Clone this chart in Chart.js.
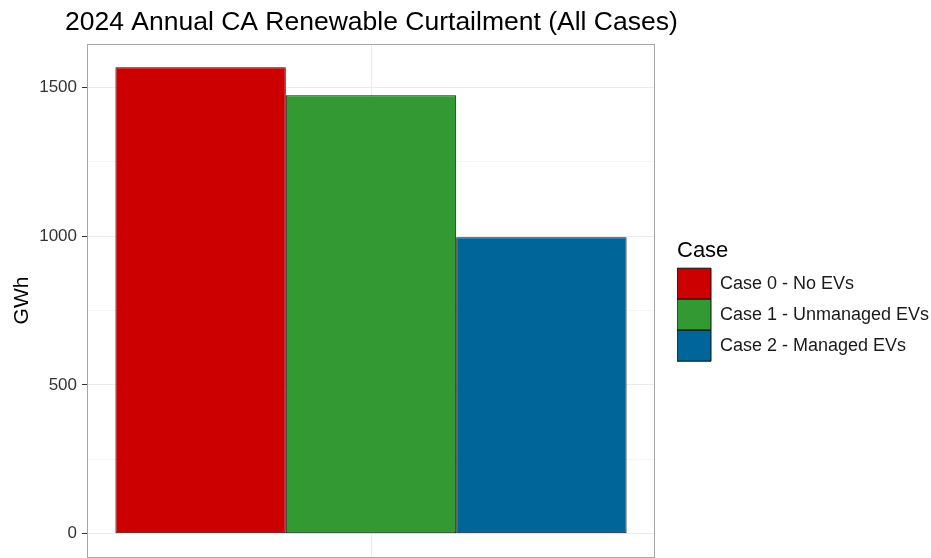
<!DOCTYPE html>
<html>
<head>
<meta charset="utf-8">
<script src="https://cdn.jsdelivr.net/npm/chart.js@4"></script>
<style>
  html, body { margin: 0; padding: 0; background: #fff; }
  #wrap { width: 931px; height: 558px; position: relative; }
</style>
</head>
<body>
<div id="wrap"><canvas id="c"></canvas></div>
<script>
const chartTitle = "2024 Annual CA Renewable Curtailment (All Cases)";
const caseNames = ["Case 0 - No EVs", "Case 1 - Unmanaged EVs", "Case 2 - Managed EVs"];
const curtailment = [1567, 1473, 996];   // GWh
const caseColors = ["#cc0000", "#339933", "#006699"];
const majorTicks = [0, 500, 1000, 1500];
const minorTicks = [250, 750, 1250];

const FONT = "'Liberation Sans', Arial, sans-serif";

// plot title sits left of the panel, so draw it ourselves
const titlePlugin = {
  id: "leftTitle",
  afterDraw(chart) {
    const ctx = chart.ctx;
    ctx.save();
    ctx.font = "26.5px " + FONT;
    ctx.fillStyle = "#000";
    ctx.textBaseline = "alphabetic";
    ctx.fillText(chartTitle, 65, 30);
    ctx.restore();
  }
};

// grey panel border like ggplot theme_bw
const panelBorder = {
  id: "panelBorder",
  afterDatasetsDraw(chart) {
    const a = chart.chartArea;
    const ctx = chart.ctx;
    ctx.save();
    ctx.strokeStyle = "#a6a6a6";
    ctx.lineWidth = 1;
    ctx.strokeRect(Math.round(a.left) + 0.5, Math.round(a.top) + 0.5,
      Math.round(a.right - a.left) - 1, Math.round(a.bottom - a.top));
    ctx.restore();
  }
};

const datasets = caseNames.map((name, i) => ({
  label: name,
  data: [curtailment[i]],
  backgroundColor: caseColors[i],
  borderColor: "#111",
  borderWidth: 1,
  borderSkipped: false,
  categoryPercentage: 0.9,
  barPercentage: 1.0
}));

new Chart(document.getElementById("c"), {
  type: "bar",
  data: { labels: [""], datasets: datasets },
  plugins: [titlePlugin, panelBorder],
  options: {
    responsive: true,
    maintainAspectRatio: false,
    animation: false,
    layout: { padding: { top: 44, right: 0, bottom: 1, left: 0 } },
    plugins: {
      title: { display: false },
      tooltip: { enabled: false },
      legend: {
        position: "right",
        fullSize: false,
        align: "center",
        maxWidth: 254,
        title: {
          display: true,
          text: "Case",
          position: "start",
          color: "#000",
          font: { family: FONT, size: 22 },
          padding: { top: 0, bottom: 2 }
        },
        labels: {
          boxWidth: 34,
          boxHeight: 31,
          padding: 0,
          color: "#1a1a1a",
          font: { family: FONT, size: 18 }
        }
      }
    },
    scales: {
      x: {
        offset: true,
        grid: { offset: false, color: "#ebebeb", drawTicks: false },
        border: { display: false },
        ticks: { display: false },
        afterFit(s) { s.height = 0; }
      },
      y: {
        min: -78,
        max: 1645,
        afterBuildTicks(s) {
          s.ticks = majorTicks.concat(minorTicks).sort((a, b) => a - b).map(v => ({ value: v }));
        },
        afterFit(s) { s.width = 87; s.paddingTop = 0; s.paddingBottom = 0; },
        grid: {
          color: c => (c.tick && minorTicks.includes(c.tick.value)) ? "#f5f5f5" : "#ebebeb",
          tickColor: c => (c.tick && minorTicks.includes(c.tick.value)) ? "rgba(0,0,0,0)" : "#333",
          tickLength: 5
        },
        border: { display: true, color: "#a6a6a6" },
        ticks: {
          padding: 5,
          color: "#333",
          font: { family: FONT, size: 17 },
          callback: v => majorTicks.includes(v) ? String(v) : ""
        },
        title: {
          display: true,
          text: "GWh",
          color: "#000",
          font: { family: FONT, size: 21 },
          padding: { top: 10, bottom: 0 }
        }
      },
      gap: {
        position: "right",
        display: true,
        grid: { display: false },
        border: { display: false },
        ticks: { display: false },
        afterFit(s) { s.width = 22; }
      }
    }
  }
});
</script>
</body>
</html>
